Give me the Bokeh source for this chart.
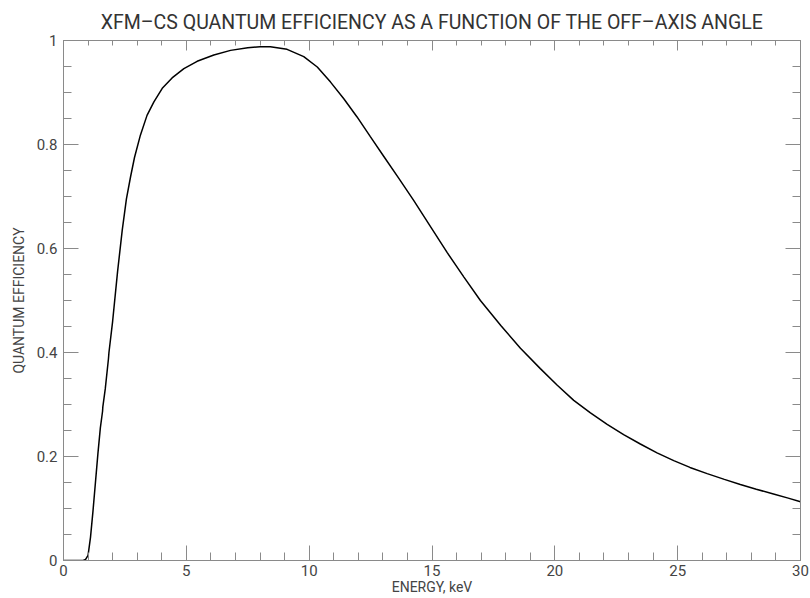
from bokeh.plotting import figure
from bokeh.models import LinearAxis, FixedTicker, Range1d, ColumnDataSource, CustomLabelingPolicy
from bokeh.embed import file_html
from bokeh.resources import INLINE

# Energy (keV) and quantum efficiency
energy = [0.0, 0.8, 0.9, 1.0, 1.1, 1.2, 1.3, 1.4, 1.5, 1.59, 1.60, 1.7, 1.83, 1.85,
          2.0, 2.2, 2.39, 2.56, 2.73, 2.89, 3.13, 3.40, 3.68, 4.02, 4.42, 4.90, 5.44,
          6.12, 6.80, 7.5, 8.0, 8.42, 9.10, 9.78, 10.33, 10.87, 11.41, 11.95, 12.49,
          13.04, 13.65, 14.26, 14.9, 15.62, 16.3, 16.97, 17.8, 18.6, 19.41, 20.1,
          20.77, 21.45, 22.13, 22.8, 23.48, 24.16, 24.84, 25.5, 26.2, 26.9, 27.55,
          28.2, 28.9, 29.5, 30.0]
qe = [0.0, 0.0, 0.002, 0.010, 0.045, 0.095, 0.150, 0.205, 0.255, 0.287, 0.295, 0.330,
      0.388, 0.400, 0.460, 0.555, 0.635, 0.695, 0.738, 0.775, 0.818, 0.856, 0.882,
      0.908, 0.928, 0.946, 0.960, 0.972, 0.981, 0.986, 0.988, 0.988, 0.983, 0.969,
      0.949, 0.920, 0.888, 0.853, 0.815, 0.777, 0.735, 0.692, 0.645, 0.592, 0.545,
      0.500, 0.452, 0.408, 0.369, 0.337, 0.308, 0.284, 0.262, 0.242, 0.224, 0.207,
      0.192, 0.179, 0.167, 0.156, 0.146, 0.137, 0.128, 0.120, 0.113]

x_major = [0, 5, 10, 15, 20, 25, 30]
x_minor = list(range(0, 31))
y_major = [0, 0.2, 0.4, 0.6, 0.8, 1.0]
y_minor = [i * 0.05 for i in range(21)]

title_text = "XFM\u2013CS QUANTUM EFFICIENCY AS A FUNCTION OF THE OFF\u2013AXIS ANGLE"

FONT = "Roboto"
AX = "#8a8a8a"
TXT = "#444444"

p = figure(width=810, height=598, output_backend="svg", toolbar_location=None,
           x_range=Range1d(0, 30), y_range=Range1d(0, 1),
           x_axis_type=None, y_axis_type=None,
           min_border_left=63, min_border_right=10, min_border_top=40, min_border_bottom=38)
p.xgrid.visible = False
p.ygrid.visible = False
p.outline_line_color = AX
p.background_fill_color = "white"
p.border_fill_color = "white"

p.title.text = title_text
p.title.align = "center"
p.title.text_font = FONT
p.title.text_font_size = "19.5px"
p.title.text_font_style = "normal"
p.title.text_color = "#333333"
p.title.standoff = 14

# drop every label on the mirrored (top / right) axes
no_labels = CustomLabelingPolicy(code="""
    try { for (let i = 0; i < indices.size; i++) indices.unset(i) } catch (e) {}
    return indices
""")


def style(ax, major_len, minor_len):
    ax.axis_line_color = AX
    ax.major_tick_line_color = AX
    ax.minor_tick_line_color = AX
    ax.major_tick_in = major_len
    ax.major_tick_out = 0
    ax.minor_tick_in = minor_len
    ax.minor_tick_out = 0
    ax.major_label_text_font = FONT
    ax.major_label_text_font_size = "15px"
    ax.major_label_text_color = TXT
    ax.axis_label_text_font = FONT
    ax.axis_label_text_font_style = "normal"
    ax.axis_label_text_color = TXT
    ax.axis_label_text_font_size = "14px"


def mirror(ax):
    ax.major_label_text_font_size = "0px"
    ax.major_label_standoff = 0
    ax.axis_label_standoff = 0


xb = LinearAxis(ticker=FixedTicker(ticks=x_major, minor_ticks=x_minor))
style(xb, 15, 8)
xb.axis_label = "ENERGY, keV"
xb.axis_label_standoff = 0
xb.major_label_standoff = 4
p.add_layout(xb, "below")

yl = LinearAxis(ticker=FixedTicker(ticks=y_major, minor_ticks=y_minor))
style(yl, 15, 8)
yl.major_label_overrides = {0: "0", 1: "1"}
yl.axis_label = "QUANTUM EFFICIENCY"
yl.axis_label_standoff = 7
yl.major_label_standoff = 6
p.add_layout(yl, "left")

xt = LinearAxis(ticker=FixedTicker(ticks=x_major, minor_ticks=x_minor),
                major_label_policy=no_labels)
style(xt, 10, 5)
mirror(xt)
p.add_layout(xt, "above")

yr = LinearAxis(ticker=FixedTicker(ticks=y_major, minor_ticks=y_minor),
                major_label_policy=no_labels)
style(yr, 15, 8)
mirror(yr)
p.add_layout(yr, "right")

src = ColumnDataSource(dict(x=energy, y=qe))
p.line("x", "y", source=src, line_color="black", line_width=1.5)

open("out.html", "w").write(file_html(p, INLINE))
